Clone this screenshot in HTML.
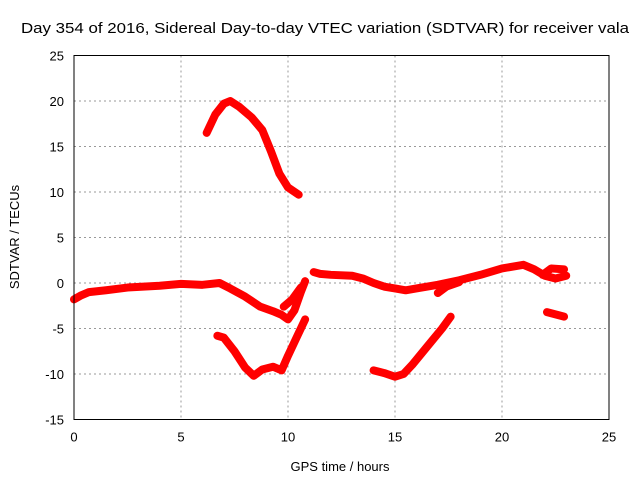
<!DOCTYPE html>
<html><head><meta charset="utf-8"><style>
body{margin:0;background:#fff}
svg text{font-family:"Liberation Sans",sans-serif;font-size:13px;fill:#000}
</style></head><body>
<svg id="chart" width="640" height="480" xmlns="http://www.w3.org/2000/svg">
<text x="325" y="33" text-anchor="middle" style="font-size:14.5px" textLength="608" lengthAdjust="spacingAndGlyphs">Day 354 of 2016, Sidereal Day-to-day VTEC variation (SDTVAR) for receiver vala</text>
<text x="340" y="471" text-anchor="middle">GPS time / hours</text>
<text transform="translate(19,237) rotate(-90)" text-anchor="middle">SDTVAR / TECUs</text>
<g id="grid"></g><g id="series"></g><g id="axes"></g>
</svg>
<script>
const xTicks=[0,5,10,15,20,25];
const yTicks=[-15,-10,-5,0,5,10,15,20,25];
const segMain=[[0,-1.8],[0.3,-1.4],[0.7,-1],[1.5,-0.8],[2.5,-0.5],[4,-0.3],[5,-0.1],[6,-0.2],[6.8,0],[7.3,-0.6],[8,-1.5],[8.7,-2.6],[9.3,-3.1],[9.7,-3.5],[10,-4],[10.3,-3],[10.6,-1],[10.8,0.2]];
const segMid=[[11.2,1.2],[11.5,1],[12,0.9],[13,0.8],[13.5,0.5],[14,0],[14.5,-0.4],[15,-0.6],[15.5,-0.8],[16,-0.6],[17,-0.2],[18,0.3],[19,0.9],[20,1.6],[21,2],[21.5,1.5],[22,0.8],[22.5,0.5],[23,0.8]];
const segBranch=[[21.9,0.9],[22.3,1.6],[22.9,1.5]];
const segBranch2=[[9.8,-2.6],[10.2,-1.8],[10.6,-0.5]];
const segBranch3=[[17,-1.1],[17.4,-0.4],[18,0.1]];
const segUpper=[[6.2,16.5],[6.6,18.5],[7,19.7],[7.3,20],[7.7,19.4],[8.3,18.2],[8.8,16.8],[9.2,14.5],[9.6,12],[10,10.5],[10.5,9.7]];
const segLower=[[6.7,-5.8],[7,-6],[7.5,-7.5],[8,-9.3],[8.4,-10.2],[8.8,-9.5],[9.3,-9.2],[9.7,-9.6],[10,-8],[10.4,-6],[10.8,-4]];
const segEvening=[[14,-9.6],[14.5,-9.9],[15,-10.3],[15.4,-10],[15.8,-9],[16.5,-7],[17.2,-5],[17.6,-3.7]];
const segLate=[[22.1,-3.2],[22.9,-3.7]];
const X0=74,X1=609,Y0=419.5,Y1=55.5;
const xs=v=>X0+(v-0)/25*(X1-X0);
const ys=v=>Y0-(v+15)/40*(Y0-Y1);
const NS="http://www.w3.org/2000/svg";
const mk=(t,a,p)=>{const e=document.createElementNS(NS,t);for(const k in a)e.setAttribute(k,a[k]);p.appendChild(e);return e;};
const grid=document.getElementById('grid'),axes=document.getElementById('axes'),ser=document.getElementById('series');
xTicks.forEach(t=>{
 if(t>0&&t<25){const g=mk('line',{x1:xs(t),x2:xs(t),y1:Y1,y2:Y0,stroke:'#999','stroke-dasharray':'2,3'},grid);
 
 }
 const l=mk('text',{x:xs(t),y:Y0+22,'text-anchor':'middle'},axes);l.textContent=t;
 
 
});
yTicks.forEach(t=>{
 if(t>-15&&t<25){const g=mk('line',{x1:X0,x2:X1,y1:ys(t),y2:ys(t),stroke:'#999','stroke-dasharray':'2,3'},grid);
 
 }
 const l=mk('text',{x:X0-10,y:ys(t)+5,'text-anchor':'end'},axes);l.textContent=t;
 
 
});
const fr=mk('rect',{x:X0,y:Y1,width:X1-X0,height:Y0-Y1,fill:'none',stroke:'#000','stroke-width':1},axes);


[segMain,segMid,segBranch,segBranch2,segBranch3,segUpper,segLower,segEvening,segLate].forEach(s=>{
 const p=mk('polyline',{points:s.map(d=>xs(d[0])+','+ys(d[1])).join(' '),fill:'none',stroke:'#f00','stroke-width':8,'stroke-linejoin':'round','stroke-linecap':'round'},ser);
 
 
});
</script>
</body></html>
